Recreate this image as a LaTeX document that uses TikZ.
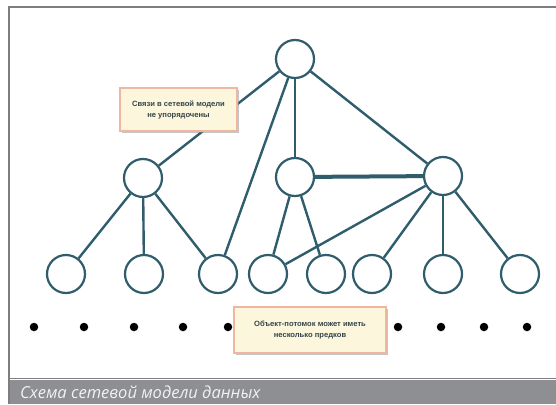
\documentclass[tikz,border=0pt]{standalone}
\usepackage{fontspec}
\setmainfont{Liberation Sans}
\newfontfamily\capfont{Open Sans}
\usetikzlibrary{shadows}
\definecolor{netline}{HTML}{2F5D6C}
\definecolor{framegray}{HTML}{7E7E7E}
\definecolor{barfill}{HTML}{8E8F93}
\definecolor{captext}{HTML}{F2F2F2}
\definecolor{notefill}{HTML}{FCF7DC}
\definecolor{noteedge}{HTML}{F0B6A0}
\definecolor{notetext}{HTML}{34444A}
\tikzset{
  vertex/.style={circle, draw=netline, line width=2.2pt, fill=white,
    minimum size=38pt, inner sep=0pt},
  link/.style={draw=netline, line width=2.4pt},
  wide link/.style={draw=netline, line width=4pt},
  dotmark/.style={circle, fill=black, minimum size=8.5pt, inner sep=0pt},
  note/.style={draw=noteedge, line width=2pt, fill=notefill,
    drop shadow={shadow xshift=1.5pt, shadow yshift=-2pt, fill=black!45},
    text=notetext, font=\bfseries\fontsize{7.6}{11}\selectfont, align=center,
    inner xsep=4pt, inner ysep=0pt}
}
\begin{document}
\begin{tikzpicture}[x=1pt, y=-1pt]
  \useasboundingbox (0,0) rectangle (556,404);
  \fill[white] (0,0) rectangle (556,404);

  % frame and caption bar
  \draw[framegray, line width=1.4pt] (556,7) -- (9,7) -- (9,404);
  \draw[framegray, line width=1.4pt] (9,378.5) -- (556,378.5);
  \fill[barfill] (9.7,379.5) rectangle (556,404);
  \node[anchor=west, text=captext, inner sep=0pt,
    font=\capfont\itshape\fontsize{16.5}{18}\selectfont]
    (caption) at (20,392) {Схема сетевой модели данных};

  % vertices
  \node[vertex] (top) at (295,59) {};
  \node[vertex] (ml) at (143,178) {};
  \node[vertex] (mc) at (295,177) {};
  \node[vertex] (mr) at (443,176) {};
  \foreach \i/\x in {1/66,2/144,3/218,4/268,5/326,6/372,7/443,8/520}
    \node[vertex] (b\i) at (\x,274) {};

  % connections
  \draw[link] (top) -- (ml);
  \draw[link] (top) -- (b3);
  \draw[link] (top) -- (mc);
  \draw[link] (top) -- (mr);
  \draw[link] (ml) -- (b1);
  \draw[link] (ml) -- (b2);
  \draw[link] (ml) -- (b3);
  \draw[link] (mc) -- (b4);
  \draw[link] (mc) -- (b5);
  \draw[wide link] (mc) -- (mr);
  \draw[link] (mr) -- (b4);
  \draw[link] (mr) -- (b6);
  \draw[link] (mr) -- (b7);
  \draw[link] (mr) -- (b8);

  % continuation dots
  \foreach \j/\x in {1/34,2/84,3/134,4/183,5/228,6/398,7/441,8/484,9/527}
    \node[dotmark] (d\j) at (\x,327) {};

  % notes
  \node[note, minimum width=117pt, minimum height=43pt] (note1) at (178.5,109.5)
    {Связи в сетевой модели\\не упорядочены};
  \node[note, minimum width=152pt, minimum height=46pt] (note2) at (310,330)
    {Объект-потомок может иметь\\несколько предков};
\end{tikzpicture}
\end{document}
